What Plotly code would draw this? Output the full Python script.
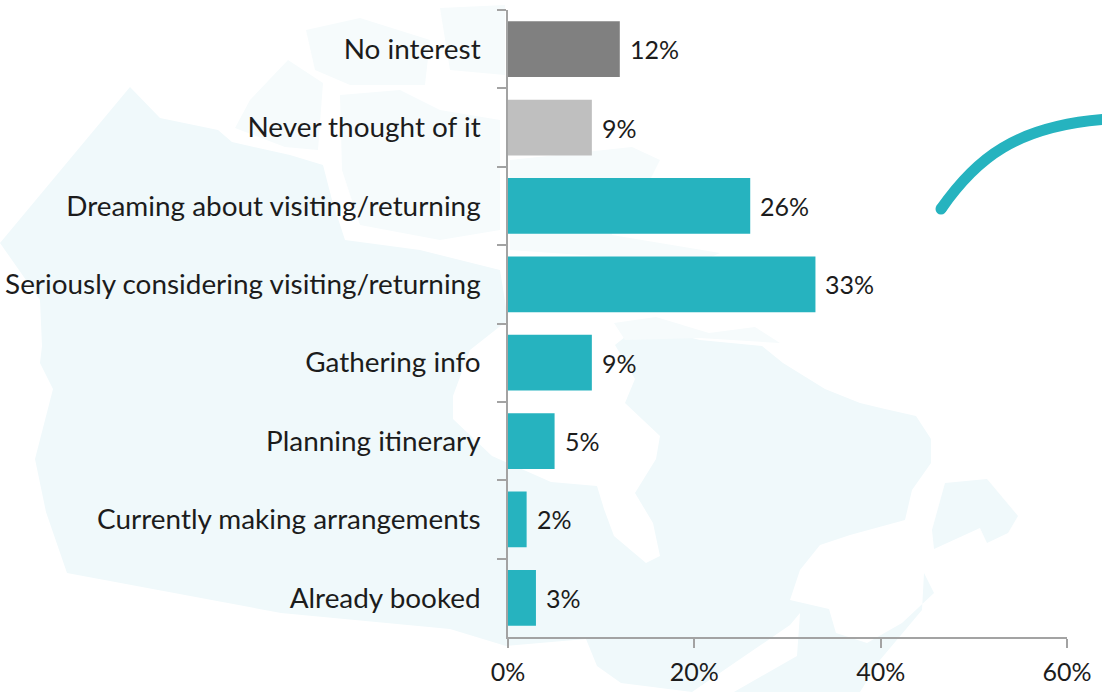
import plotly.graph_objects as go

categories = ["No interest", "Never thought of it", "Dreaming about visiting/returning",
              "Seriously considering visiting/returning", "Gathering info", "Planning itinerary",
              "Currently making arrangements", "Already booked"]
values = [12, 9, 26, 33, 9, 5, 2, 3]
bar_colors = ["#808080", "#bfbfbf", "#26b3bf", "#26b3bf", "#26b3bf", "#26b3bf", "#26b3bf", "#26b3bf"]
x_ticks = [0, 20, 40, 60]
x_tick_labels = ["0%", "20%", "40%", "60%"]

W, H = 1102, 692
L, R, T, B = 508, 1067, 10, 637
FONT = "Lato"
SIZE = 27.9
NUM_SIZE = 25
INK = "#1c1c1c"
AXIS = "#a3a3a3"
MAP = "#f0f9fb"
MAP_FAINT = "#f6fbfc"
TEAL = "#26b3bf"

def px(x): return round((x - L) / (R - L), 5)
def py(y): return round((B - y) / (B - T), 5)
def poly(pts):
    return "M " + " L ".join(f"{px(x)},{py(y)}" for x, y in pts) + " Z"

# Decorative backdrop: faint map silhouette, in page pixels
mainland = [(130,87),(160,118),(218,130),(232,142),(290,155),(323,165),(332,200),(345,240),(420,250),
            (500,270),(508,320),(470,350),(453,396),(453,419),(492,456),(551,482),(597,486),(604,509),
            (614,536),(646,563),(660,556),(653,523),(635,493),(656,459),(660,436),(625,403),(635,379),
            (615,345),(640,325),(700,340),(762,346),(783,363),(825,389),(860,403),(885,409),(916,416),
            (931,439),(931,463),(912,490),(905,520),(850,535),(820,545),(800,570),(790,600),(829,609),
            (836,633),(867,643),(902,623),(934,593),(924,573),(922,610),(880,660),(860,692),(734,692),(797,656),
            (800,613),(790,625),(692,692),(621,683),(597,666),(586,639),(506,646),(450,629),(281,613),
            (67,573),(46,512),(35,459),(53,389),(40,363),(42,346),(40,300),(0,243)]
newfoundland = [(945,483),(987,479),(1018,516),(1008,533),(987,543),(980,528),(934,549),(932,530)]
arctic = [
    [(250,100),(288,60),(323,83),(318,150),(285,147),(235,128)],
    [(340,95),(400,90),(440,110),(500,120),(500,230),(440,240),(360,225),(342,170)],
    [(306,30),(360,18),(430,40),(425,85),(350,85),(315,70)],
    [(440,8),(505,5),(505,75),(450,70)],
    [(510,160),(632,147),(660,160),(650,180),(620,178),(612,235),(720,253),(700,262),(625,258),(510,250)],
    [(614,323),(656,317),(709,333),(755,327),(780,343),(700,338),(625,340)],
]
shapes = [dict(type="path", xref="paper", yref="paper", path=poly(p), fillcolor=c,
               line=dict(width=0), layer="below")
          for p, c in [(mainland, MAP), (newfoundland, MAP)] + [(a, MAP_FAINT) for a in arctic]]

# Decorative teal swoosh
shapes.append(dict(type="path", xref="paper", yref="paper", layer="above",
                   path=f"M {px(941)},{py(209)} C {px(975)},{py(160)} {px(1015)},{py(125)} {px(1110)},{py(119)}",
                   line=dict(color=TEAL, width=11), fillcolor="rgba(0,0,0,0)"))
shapes.append(dict(type="circle", xref="paper", yref="paper", layer="above",
                   x0=px(935.5), x1=px(946.5), y0=py(214.5), y1=py(203.5),
                   fillcolor=TEAL, line=dict(width=0)))

fig = go.Figure(go.Bar(y=categories, x=values, orientation="h",
                       marker=dict(color=bar_colors, line=dict(width=0)),
                       width=0.71, hoverinfo="skip"))

annotations = [dict(x=v, y=c, xref="x", yref="y", text=f"{v}%", showarrow=False,
                    xanchor="left", yanchor="middle", xshift=8, yshift=0,
                    font=dict(family=FONT, size=NUM_SIZE, color=INK))
               for c, v in zip(categories, values)]

fig.update_layout(
    width=W, height=H, autosize=False, showlegend=False,
    margin=dict(l=L, r=W - R, t=T, b=H - B, pad=0),
    paper_bgcolor="white", plot_bgcolor="rgba(0,0,0,0)",
    shapes=shapes, annotations=annotations,
    font=dict(family=FONT, size=SIZE, color=INK),
    xaxis=dict(range=[0, 60], tickvals=x_ticks, ticktext=x_tick_labels, showgrid=False, zeroline=False,
               automargin=False, showline=True, linecolor=AXIS, linewidth=1.5, ticks="outside", ticklen=9,
               tickcolor=AXIS, tickwidth=1.5, ticklabelstandoff=3, tickfont=dict(family=FONT, size=NUM_SIZE, color=INK)),
    yaxis=dict(type="category", categoryorder="array", categoryarray=categories, range=[7.5, -0.5],
               automargin=False, tickson="boundaries", showgrid=False, zeroline=False, showline=True,
               linecolor=AXIS, linewidth=1.5, ticks="outside", ticklen=9, tickcolor=AXIS, tickwidth=1.5,
               ticklabelstandoff=20, tickfont=dict(family=FONT, size=SIZE, color=INK)),
)
fig.write_html("out.html", config=dict(displayModeBar=False),
               post_script="document.documentElement.style.margin='0';document.body.style.margin='0';document.documentElement.style.overflow='hidden';")
